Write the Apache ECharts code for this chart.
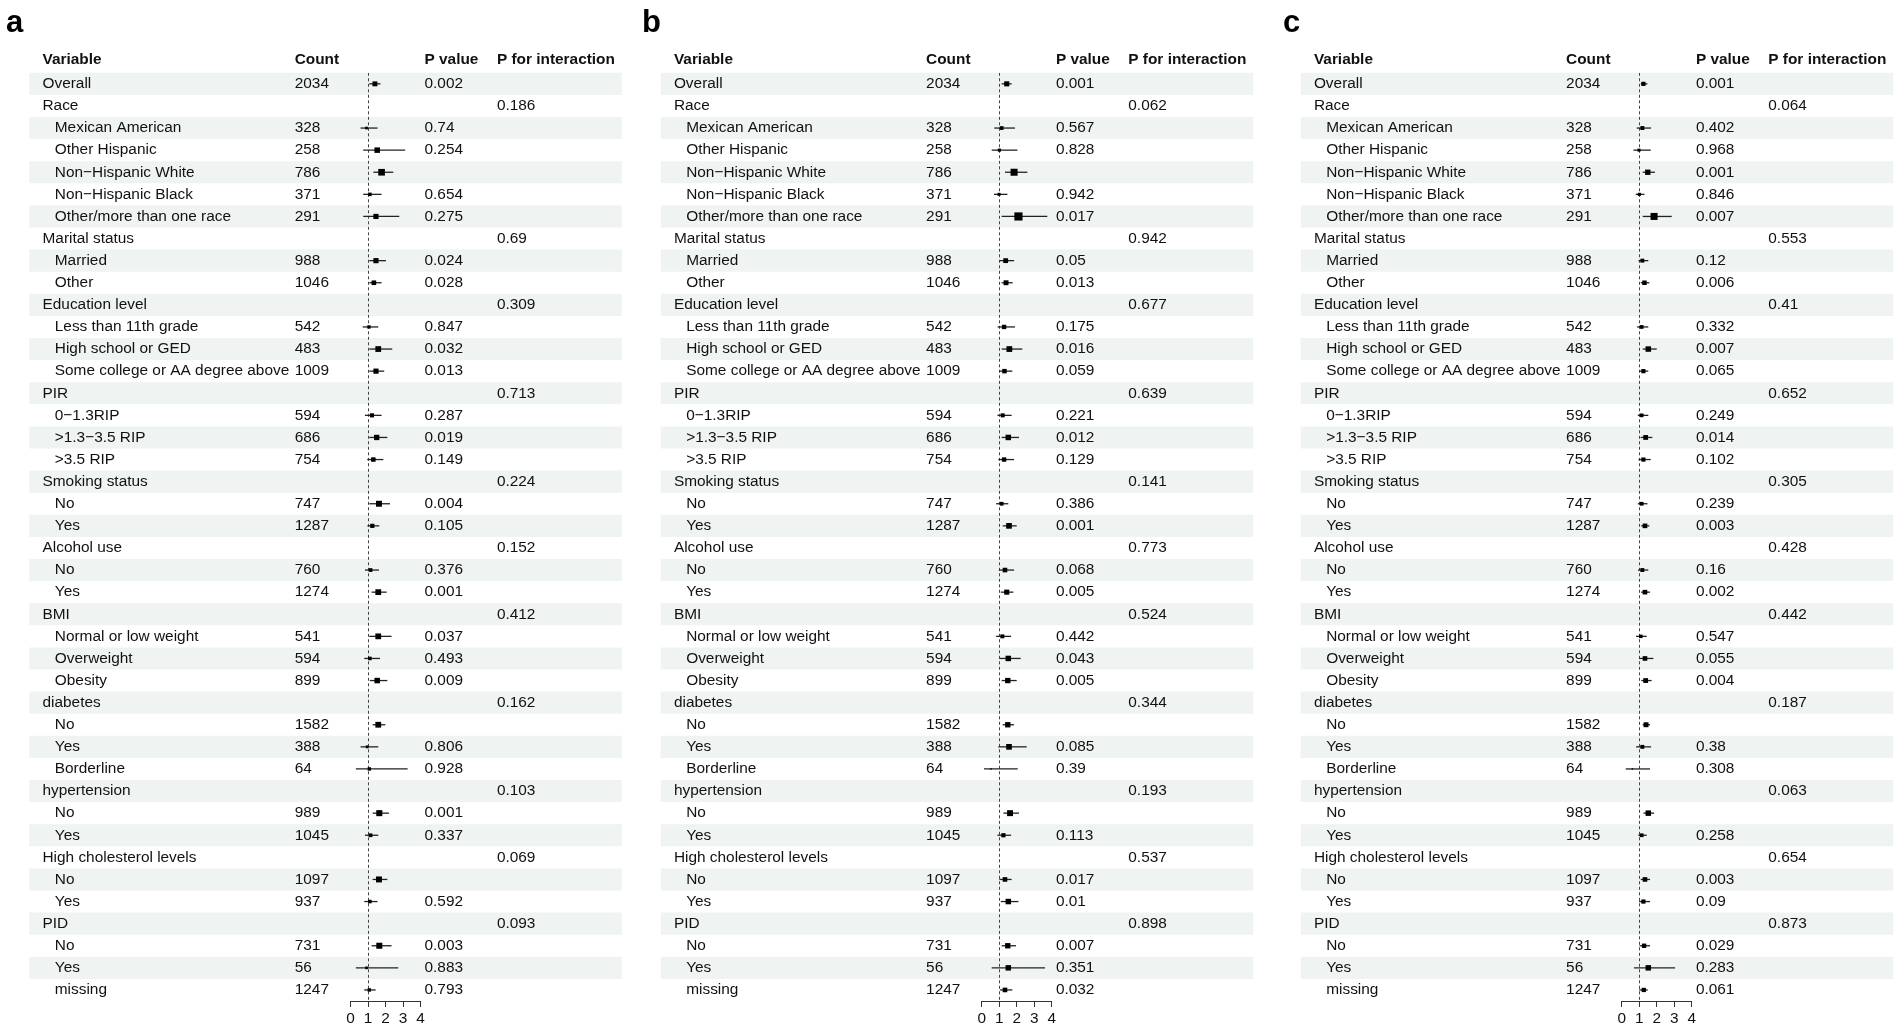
<!DOCTYPE html>
<html><head><meta charset="utf-8">
<script src="https://cdn.jsdelivr.net/npm/echarts@6/dist/echarts.min.js"></script>
<style>html,body{margin:0;padding:0;background:#fff}#chart{width:1902px;height:1031px}</style>
</head><body><div id="chart"></div>
<script>
// ---------- DATA ----------
const variables = ['Overall','Race','Mexican American','Other Hispanic','Non\u2212Hispanic White','Non\u2212Hispanic Black','Other/more than one race','Marital status','Married','Other','Education level','Less than 11th grade','High school or GED','Some college or AA degree above','PIR','0\u22121.3RIP','>1.3\u22123.5 RIP','>3.5 RIP','Smoking status','No','Yes','Alcohol use','No','Yes','BMI','Normal or low weight','Overweight','Obesity','diabetes','No','Yes','Borderline','hypertension','No','Yes','High cholesterol levels','No','Yes','PID','No','Yes','missing'];
const indentLevel = [0,0,1,1,1,1,1,0,1,1,0,1,1,1,0,1,1,1,0,1,1,0,1,1,0,1,1,1,0,1,1,1,0,1,1,0,1,1,0,1,1,1];
const counts = ['2034','','328','258','786','371','291','','988','1046','','542','483','1009','','594','686','754','','747','1287','','760','1274','','541','594','899','','1582','388','64','','989','1045','','1097','937','','731','56','1247'];
const groupRows = [1,7,10,14,18,21,24,28,32,35,38];
const headers = ['Variable','Count','P value','P for interaction'];
const panelLetters = ['a','b','c'];
const axisTicks = [0,1,2,3,4];
const referenceValue = 1;

const pValue_a = ['0.002','','0.74','0.254','','0.654','0.275','','0.024','0.028','','0.847','0.032','0.013','','0.287','0.019','0.149','','0.004','0.105','','0.376','0.001','','0.037','0.493','0.009','','','0.806','0.928','','0.001','0.337','','','0.592','','0.003','0.883','0.793'];
const pValue_b = ['0.001','','0.567','0.828','','0.942','0.017','','0.05','0.013','','0.175','0.016','0.059','','0.221','0.012','0.129','','0.386','0.001','','0.068','0.005','','0.442','0.043','0.005','','','0.085','0.39','','','0.113','','0.017','0.01','','0.007','0.351','0.032'];
const pValue_c = ['0.001','','0.402','0.968','0.001','0.846','0.007','','0.12','0.006','','0.332','0.007','0.065','','0.249','0.014','0.102','','0.239','0.003','','0.16','0.002','','0.547','0.055','0.004','','','0.38','0.308','','','0.258','','0.003','0.09','','0.029','0.283','0.061'];

const pInteraction_a = ['0.186','0.69','0.309','0.713','0.224','0.152','0.412','0.162','0.103','0.069','0.093'];
const pInteraction_b = ['0.062','0.942','0.677','0.639','0.141','0.773','0.524','0.344','0.193','0.537','0.898'];
const pInteraction_c = ['0.064','0.553','0.41','0.652','0.305','0.428','0.442','0.187','0.063','0.654','0.873'];

const est_a = [1.39,null,0.91,1.52,1.77,1.10,1.45,null,1.45,1.33,null,1.05,1.58,1.45,null,1.22,1.49,1.30,null,1.62,1.24,null,1.14,1.58,null,1.58,1.10,1.52,null,1.58,0.95,1.07,null,1.64,1.14,null,1.62,1.10,null,1.64,0.91,1.07];
const low_a = [1.07,null,0.57,0.72,1.30,0.72,0.72,null,1.07,1.07,null,0.69,1.07,1.07,null,0.82,1.07,0.95,null,1.07,0.96,null,0.82,1.20,null,1.07,0.78,1.10,null,1.26,0.57,0.30,null,1.26,0.82,null,1.26,0.78,null,1.20,0.30,0.78];
const high_a = [1.71,null,1.54,3.12,2.44,1.77,2.78,null,2.02,1.77,null,1.58,2.38,1.92,null,1.77,2.10,1.87,null,2.25,1.64,null,1.62,2.06,null,2.34,1.68,2.10,null,1.98,1.58,3.26,null,2.19,1.58,null,2.10,1.54,null,2.34,2.72,1.43];

const est_b = [1.43,null,1.14,1.01,1.85,0.99,2.10,null,1.37,1.39,null,1.28,1.58,1.30,null,1.20,1.52,1.28,null,1.14,1.56,null,1.33,1.43,null,1.18,1.52,1.49,null,1.49,1.56,0.53,null,1.62,1.24,null,1.33,1.52,null,1.49,1.52,1.33];
const low_b = [1.14,null,0.72,0.57,1.33,0.70,1.14,null,1.01,1.14,null,0.91,1.14,0.99,null,0.90,1.14,0.95,null,0.82,1.20,null,0.98,1.09,null,0.82,1.01,1.14,null,1.20,0.95,0.13,null,1.24,0.90,null,1.01,1.09,null,1.14,0.57,1.05];
const high_b = [1.71,null,1.90,2.04,2.61,1.47,3.75,null,1.85,1.77,null,1.90,2.32,1.75,null,1.71,2.13,1.85,null,1.52,2.00,null,1.85,1.81,null,1.68,2.23,2.00,null,1.85,2.57,2.06,null,2.13,1.68,null,1.71,2.10,null,1.96,3.62,1.75];

const est_c = [1.24,null,1.18,0.99,1.49,1.01,1.85,null,1.18,1.30,null,1.14,1.52,1.24,null,1.14,1.37,1.24,null,1.14,1.33,null,1.18,1.33,null,1.09,1.33,1.37,null,1.39,1.18,0.61,null,1.52,1.14,null,1.33,1.24,null,1.28,1.52,1.26];
const low_c = [1.09,null,0.86,0.67,1.20,0.80,1.20,null,0.96,1.09,null,0.88,1.20,0.99,null,0.92,1.08,0.96,null,0.92,1.11,null,0.93,1.11,null,0.82,0.99,1.12,null,1.20,0.82,0.23,null,1.24,0.95,null,1.09,0.99,null,1.02,0.70,1.00];
const high_c = [1.47,null,1.68,1.66,1.90,1.30,2.86,null,1.52,1.58,null,1.52,2.00,1.52,null,1.52,1.75,1.66,null,1.47,1.58,null,1.52,1.62,null,1.43,1.81,1.71,null,1.62,1.68,1.62,null,1.85,1.43,null,1.62,1.62,null,1.62,3.05,1.49];

// ---------- LAYOUT ----------
const FONT = '"Liberation Sans", Arial, Helvetica, sans-serif';
const FS = 15.4;
const TXT = '#111';
const ROW_TOP = 72.8, ROW_H = 22.1, NROWS = variables.length;
const TABLE_W = 592.5;
const COL = {variable: 13.2, indent: 12.3, count: 265.4, p: 395.2, pint: 467.6};
const panels = [
  {letter: panelLetters[0], tableLeft: 29.3, forestLeft: 350.6, letterX: 6, est: est_a, low: low_a, high: high_a, p: pValue_a, pint: pInteraction_a},
  {letter: panelLetters[1], tableLeft: 660.7, forestLeft: 981.7, letterX: 642, est: est_b, low: low_b, high: high_b, p: pValue_b, pint: pInteraction_b},
  {letter: panelLetters[2], tableLeft: 1300.7, forestLeft: 1621.7, letterX: 1283, est: est_c, low: low_c, high: high_c, p: pValue_c, pint: pInteraction_c}
];

const grid = [], xAxis = [], yAxis = [], series = [], graphic = [];

panels.forEach((pn, k) => {
  const gT = grid.length;
  grid.push({left: pn.tableLeft, top: ROW_TOP, width: TABLE_W, height: ROW_H * NROWS});
  xAxis.push({gridIndex: gT, type: 'value', min: 0, max: TABLE_W, show: false, splitLine: {show: false}});
  yAxis.push({gridIndex: gT, type: 'value', min: -0.5, max: NROWS - 0.5, inverse: true, show: false, splitLine: {show: false}});
  const gF = grid.length;
  grid.push({left: pn.forestLeft, top: ROW_TOP, width: 70, height: ROW_H * NROWS});
  xAxis.push({gridIndex: gF, type: 'value', min: axisTicks[0], max: axisTicks[axisTicks.length - 1], interval: 1,
    axisLine: {show: true, onZero: false, lineStyle: {color: '#333', width: 1}},
    axisTick: {show: true, length: 6, lineStyle: {color: '#333', width: 1}},
    axisLabel: {show: true, margin: 10, fontSize: FS, fontFamily: FONT, color: TXT},
    splitLine: {show: false}});
  yAxis.push({gridIndex: gF, type: 'value', min: -0.5, max: NROWS - 0.5, inverse: true, show: false, splitLine: {show: false}});

  const pintByRow = {};
  groupRows.forEach((r, j) => { pintByRow[r] = pn.pint[j]; });

  const txt = (x, y, s, bold) => ({type: 'text', x: x, y: y,
    style: {text: s, fill: TXT, fontSize: FS, fontFamily: FONT, fontWeight: bold ? 'bold' : 'normal', align: 'left', verticalAlign: 'middle'}});

  series.push({
    type: 'custom', xAxisIndex: gT, yAxisIndex: gT, z: 1, silent: true, clip: false,
    data: variables.map((v, i) => [0, i]),
    encode: {x: 0, y: 1},
    renderItem: function (params, api) {
      const i = api.value(1);
      const yc = api.coord([0, i])[1];
      const h = Math.abs(api.coord([0, i + 0.5])[1] - api.coord([0, i - 0.5])[1]);
      const x0 = api.coord([0, i])[0];
      const x1 = api.coord([TABLE_W, i])[0];
      const cx = c => api.coord([c, i])[0];
      const ch = [];
      if (i % 2 === 0) ch.push({type: 'rect', shape: {x: x0, y: yc - h / 2, width: x1 - x0, height: h}, style: {fill: '#eff3f2'}});
      ch.push(txt(cx(COL.variable + (indentLevel[i] ? COL.indent : 0)), yc, variables[i], false));
      if (counts[i]) ch.push(txt(cx(COL.count), yc, counts[i], false));
      if (pn.p[i]) ch.push(txt(cx(COL.p), yc, pn.p[i], false));
      if (pintByRow[i] !== undefined) ch.push(txt(cx(COL.pint), yc, pintByRow[i], false));
      if (i === 0) {
        const yh = api.coord([0, -1.11])[1];
        headers.forEach((hd, j) => ch.push(txt(cx([COL.variable, COL.count, COL.p, COL.pint][j]), yh, hd, true)));
      }
      return {type: 'group', children: ch};
    }
  });

  // dashed reference line at x = 1
  series.push({
    type: 'custom', xAxisIndex: gF, yAxisIndex: gF, z: 3, silent: true, clip: true,
    data: [[referenceValue, -0.5, NROWS - 0.5]],
    encode: {x: 0, y: [1, 2]},
    renderItem: function (params, api) {
      const a = api.coord([api.value(0), api.value(1)]);
      const b = api.coord([api.value(0), api.value(2)]);
      return {type: 'line', shape: {x1: Math.round(a[0]) + 0.5, y1: a[1], x2: Math.round(b[0]) + 0.5, y2: b[1]},
        style: {stroke: '#444', lineWidth: 1, lineDash: [3, 2.5]}};
    }
  });

  const fdata = [];
  pn.est.forEach((e, i) => { if (e !== null) fdata.push([e, pn.low[i], pn.high[i], i]); });
  series.push({
    type: 'custom', xAxisIndex: gF, yAxisIndex: gF, z: 5, silent: true, clip: false,
    data: fdata,
    encode: {x: [0, 1, 2], y: 3},
    renderItem: function (params, api) {
      const e = api.value(0), lo = api.value(1), hi = api.value(2), i = api.value(3);
      const pe = api.coord([e, i]), pl = api.coord([lo, i]), ph = api.coord([hi, i]);
      const s = Math.max(1.4, 4.6 * e - 1.5);
      return {type: 'group', children: [
        {type: 'line', shape: {x1: pl[0], y1: pl[1], x2: ph[0], y2: ph[1]}, style: {stroke: '#222', lineWidth: 1.3}},
        {type: 'rect', shape: {x: pe[0] - s / 2, y: pe[1] - s / 2, width: s, height: s}, style: {fill: '#000'}}
      ]};
    }
  });

  graphic.push({type: 'text', left: pn.letterX, top: 8,
    style: {text: pn.letter, fill: '#000', fontSize: 31, fontWeight: 'bold', fontFamily: FONT}});
});

const chart = echarts.init(document.getElementById('chart'), null, {renderer: 'canvas'});
chart.setOption({animation: false, backgroundColor: '#fff', grid, xAxis, yAxis, series, graphic});
</script></body></html>
